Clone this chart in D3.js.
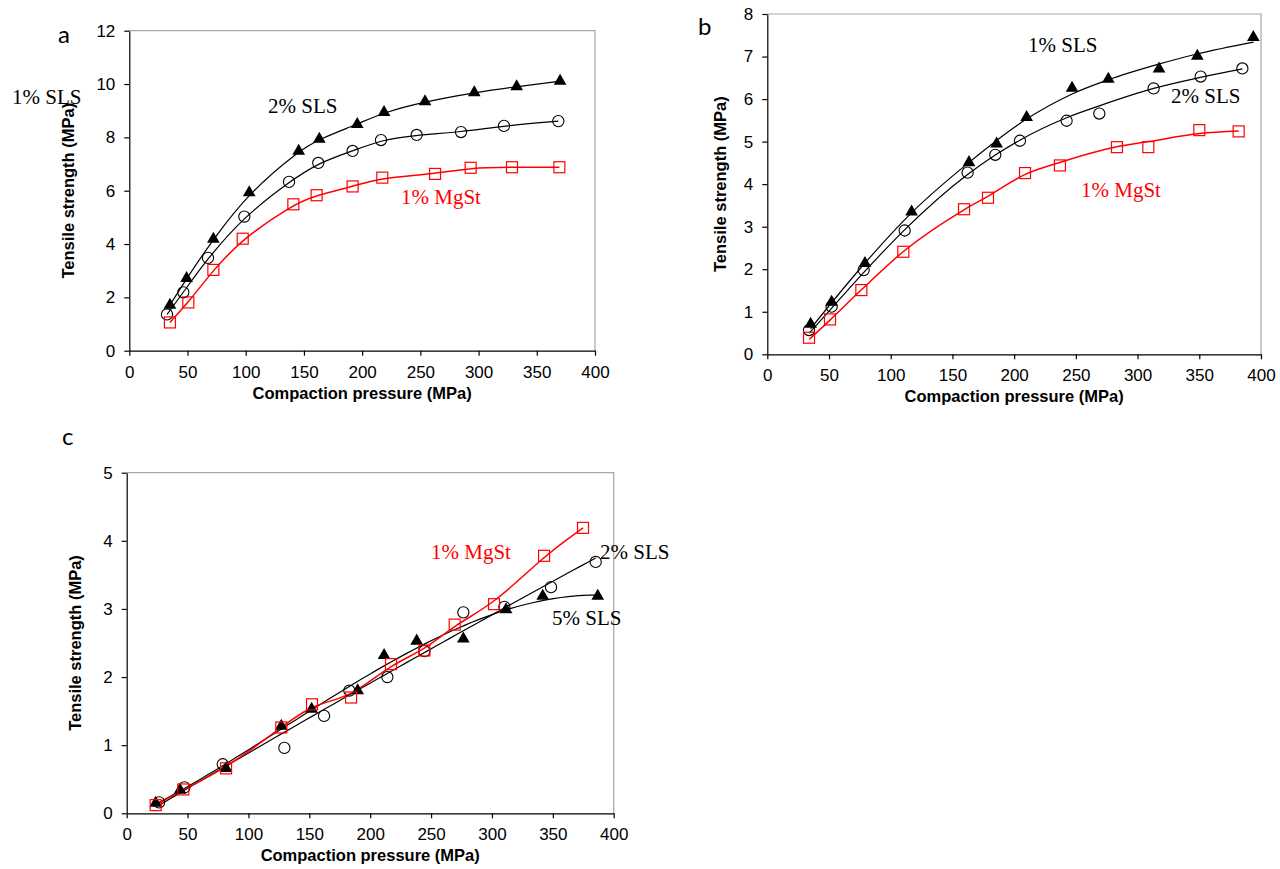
<!DOCTYPE html>
<html><head><meta charset="utf-8">
<script src="https://cdn.jsdelivr.net/npm/d3@7"></script>
<style>body{margin:0;background:#fff}svg{display:block}</style>
</head><body>
<svg id="chart" width="1280" height="869"></svg>
<script>
// ---------- DATA ----------
const xTickValues = [0, 50, 100, 150, 200, 250, 300, 350, 400];
const aTickValues = [0, 2, 4, 6, 8, 10, 12];
const bTickValues = [0, 1, 2, 3, 4, 5, 6, 7, 8];
const cTickValues = [0, 1, 2, 3, 4, 5];
const xTitle = "Compaction pressure (MPa)";
const yTitle = "Tensile strength (MPa)";

// Panel a
const aTriX = [34.9, 49.2, 72.2, 103, 145.5, 163.2, 195.8, 218.8, 254, 296.3, 332.7, 370];
const aTriY = [1.71, 2.71, 4.19, 5.93, 7.49, 7.94, 8.49, 8.94, 9.34, 9.68, 9.90, 10.11];
const aCirX = [32.4, 46.4, 67.6, 98.8, 137.2, 162.3, 191.8, 216.2, 246.8, 284.9, 321.8, 368.5];
const aCirY = [1.36, 2.19, 3.48, 5.03, 6.33, 7.04, 7.49, 7.90, 8.09, 8.20, 8.43, 8.61];
const aSqX  = [34.9, 50.7, 72.2, 97.4, 140.9, 160.9, 191.8, 217.3, 262.6, 293.2, 328.7, 369.4];
const aSqY  = [1.06, 1.81, 3.03, 4.20, 5.49, 5.83, 6.16, 6.49, 6.63, 6.86, 6.88, 6.88];

// Panel b (measured points)
const bTriX = [35.1, 52.1, 79.1, 116.9, 163.4, 185.8, 210.1, 246.9, 276.3, 317.4, 348.4, 393.8];
const bTriY = [0.71, 1.23, 2.14, 3.35, 4.51, 4.95, 5.57, 6.26, 6.47, 6.71, 7.01, 7.45];
const bCirX = [33.8, 52.1, 78.1, 111.3, 162.3, 184.7, 204.7, 242.5, 269, 313, 351.1, 384.9];
const bCirY = [0.57, 1.12, 1.98, 2.91, 4.27, 4.69, 5.02, 5.49, 5.66, 6.25, 6.53, 6.72];
const bSqX  = [33.8, 50.8, 76.2, 110.2, 159.4, 178.8, 208.8, 237.1, 283.3, 308.7, 350, 381.9];
const bSqY  = [0.39, 0.82, 1.51, 2.41, 3.41, 3.68, 4.26, 4.44, 4.87, 4.87, 5.27, 5.24];
// Panel b (fitted curves)
const bTriFitX = [35, 79, 117, 163, 210, 247, 276, 317, 348, 394];
const bTriFitY = [0.60, 2.14, 3.33, 4.50, 5.53, 6.12, 6.45, 6.82, 7.06, 7.34];
const bCirFitX = [34, 52, 78, 111, 162, 185, 205, 242.5, 269, 313, 351, 385];
const bCirFitY = [0.50, 1.08, 1.92, 2.92, 4.22, 4.69, 5.04, 5.56, 5.84, 6.25, 6.51, 6.71];
const bSqFitX  = [34, 51, 76, 110, 159, 179, 209, 237, 283, 309, 350, 382];
const bSqFitY  = [0.35, 0.81, 1.51, 2.41, 3.39, 3.72, 4.23, 4.51, 4.88, 5.00, 5.19, 5.25];

// Panel c
const cSqX  = [23.8, 46.5, 81.6, 127, 152.2, 184.3, 217.1, 244.5, 269.4, 301.7, 342.8, 374.8];
const cSqY  = [0.12, 0.35, 0.66, 1.26, 1.60, 1.70, 2.19, 2.39, 2.77, 3.07, 3.78, 4.19];
const cCirX = [26.6, 47.4, 78.9, 129.5, 162.1, 182.9, 214.1, 244.5, 276.5, 310.2, 348.5, 385.2];
const cCirY = [0.16, 0.38, 0.72, 0.96, 1.43, 1.80, 2.00, 2.38, 2.95, 3.03, 3.32, 3.69];
const cTriX = [23.8, 43.8, 81.6, 127, 151.9, 189.7, 211.4, 238.2, 276.5, 311.6, 341.7, 386.9];
const cTriY = [0.15, 0.34, 0.66, 1.28, 1.53, 1.80, 2.32, 2.53, 2.56, 2.99, 3.19, 3.19];

// ---------- HELPERS ----------
const svg = d3.select("#chart");
const zip = (xs, ys) => xs.map((x, i) => [x, ys[i]]);

function polyfit(xs, ys, deg) {
  const n = deg + 1, s = 100;
  const A = Array.from({length: n}, () => new Array(n + 1).fill(0));
  xs.forEach((xv, k) => {
    const x = xv / s;
    for (let i = 0; i < n; i++) {
      for (let j = 0; j < n; j++) A[i][j] += Math.pow(x, i + j);
      A[i][n] += ys[k] * Math.pow(x, i);
    }
  });
  for (let i = 0; i < n; i++) {
    let p = i;
    for (let r = i + 1; r < n; r++) if (Math.abs(A[r][i]) > Math.abs(A[p][i])) p = r;
    [A[i], A[p]] = [A[p], A[i]];
    for (let r = 0; r < n; r++) {
      if (r === i) continue;
      const f = A[r][i] / A[i][i];
      for (let c = i; c <= n; c++) A[r][c] -= f * A[i][c];
    }
  }
  const coef = A.map((row, i) => row[n] / row[i]);
  return x => coef.reduce((acc, c, i) => acc + c * Math.pow(x / s, i), 0);
}
function fitLine(xs, ys, deg) {
  const f = polyfit(xs, ys, deg);
  const lo = d3.min(xs), hi = d3.max(xs);
  return d3.range(0, 61).map(i => { const x = lo + (hi - lo) * i / 60; return [x, f(x)]; });
}

function panel(cfg) {
  const g = svg.append("g");
  const x = d3.scaleLinear().domain([0, 400]).range([cfg.left, cfg.right]);
  const y = d3.scaleLinear().domain([0, cfg.yMax]).range([cfg.bottom, cfg.top]);

  g.append("path")
    .attr("d", `M${cfg.left},${cfg.top}H${cfg.right}V${cfg.bottom}`)
    .attr("fill", "none").attr("stroke", "#a6a6a6").attr("stroke-width", 1.2);

  const xa = g.append("g").attr("transform", `translate(0,${cfg.bottom})`)
    .call(d3.axisBottom(x).tickValues(xTickValues).tickFormat(d3.format("d"))
      .tickSize(5).tickSizeOuter(0).tickPadding(10));
  const ya = g.append("g").attr("transform", `translate(${cfg.left},0)`)
    .call(d3.axisLeft(y).tickValues(cfg.yTicks).tickFormat(d3.format("d"))
      .tickSize(5).tickSizeOuter(0).tickPadding(9));
  [xa, ya].forEach(a => {
    a.selectAll("text").attr("font-family", "'Liberation Sans', Arial, sans-serif")
      .attr("font-size", 17).attr("fill", "#000");
    a.selectAll("line,path").attr("stroke", "#000").attr("stroke-width", 1.2);
  });

  g.append("text").text(xTitle)
    .attr("x", (cfg.left + cfg.right) / 2).attr("y", cfg.bottom + cfg.xTitleDy)
    .attr("text-anchor", "middle").attr("font-family", "'Liberation Sans', Arial, sans-serif")
    .attr("font-weight", "bold").attr("font-size", 16.5);
  g.append("text").text(yTitle)
    .attr("transform", `translate(${cfg.yTitleX},${(cfg.top + cfg.bottom) / 2}) rotate(-90)`)
    .attr("text-anchor", "middle").attr("font-family", "'Liberation Sans', Arial, sans-serif")
    .attr("font-weight", "bold").attr("font-size", 16.5);

  g.append("text").text(cfg.letter).attr("x", cfg.letterX).attr("y", cfg.letterY)
    .attr("font-family", "Lato, 'Open Sans', sans-serif").attr("font-size", 24);

  const line = d3.line().x(d => x(d[0])).y(d => y(d[1]));
  cfg.series.forEach(s => {
    g.append("path").datum(s.line)
      .attr("d", line.curve(s.curve || d3.curveLinear))
      .attr("fill", "none").attr("stroke", s.color).attr("stroke-width", s.color === "#000" ? 1.2 : 1.5);
  });
  cfg.series.forEach(s => {
    const mk = g.append("g");
    s.pts.forEach(p => {
      const cx = x(p[0]), cy = y(p[1]);
      if (s.marker === "tri") {
        mk.append("path").attr("d", d3.symbol(d3.symbolTriangle, 70)())
          .attr("transform", `translate(${cx},${cy})`).attr("fill", "#000");
      } else if (s.marker === "cir") {
        mk.append("circle").attr("cx", cx).attr("cy", cy).attr("r", 5.6)
          .attr("fill", "none").attr("stroke", "#000").attr("stroke-width", 1.1);
      } else {
        mk.append("rect").attr("x", cx - 5.5).attr("y", cy - 5.5).attr("width", 11).attr("height", 11)
          .attr("fill", "none").attr("stroke", "#f00").attr("stroke-width", 1.2);
      }
    });
  });
  cfg.notes.forEach(n => {
    g.append("text").text(n.t).attr("x", n.x).attr("y", n.y)
      .attr("font-family", "'Liberation Serif', 'Times New Roman', serif")
      .attr("font-size", 21).attr("fill", n.c || "#000");
  });
}

panel({
  left: 129.3, right: 595, top: 30.7, bottom: 350.7, yMax: 12, yTicks: aTickValues,
  xTitleDy: 48, yTitleX: 74, letter: "a", letterX: 58, letterY: 43,
  series: [
    {pts: zip(aTriX, aTriY), line: zip(aTriX, aTriY), curve: d3.curveBasis, color: "#000", marker: "tri"},
    {pts: zip(aCirX, aCirY), line: zip(aCirX, aCirY), curve: d3.curveBasis, color: "#000", marker: "cir"},
    {pts: zip(aSqX, aSqY), line: zip(aSqX, aSqY), curve: d3.curveBasis, color: "#f00", marker: "sq"}
  ],
  notes: [
    {t: "1% SLS", x: 12, y: 104},
    {t: "2% SLS", x: 268, y: 112.5},
    {t: "1% MgSt", x: 401, y: 204, c: "#f00"}
  ]
});

panel({
  left: 767.3, right: 1261, top: 14, bottom: 354.3, yMax: 8, yTicks: bTickValues,
  xTitleDy: 48, yTitleX: 726, letter: "b", letterX: 698, letterY: 35,
  series: [
    {pts: zip(bTriX, bTriY), line: zip(bTriFitX, bTriFitY), curve: d3.curveMonotoneX, color: "#000", marker: "tri"},
    {pts: zip(bCirX, bCirY), line: zip(bCirFitX, bCirFitY), curve: d3.curveMonotoneX, color: "#000", marker: "cir"},
    {pts: zip(bSqX, bSqY), line: zip(bSqFitX, bSqFitY), curve: d3.curveMonotoneX, color: "#f00", marker: "sq"}
  ],
  notes: [
    {t: "1% SLS", x: 1028, y: 52},
    {t: "2% SLS", x: 1171, y: 103},
    {t: "1% MgSt", x: 1081, y: 197, c: "#f00"}
  ]
});

panel({
  left: 126.7, right: 613.7, top: 472.7, bottom: 813.3, yMax: 5, yTicks: cTickValues,
  xTitleDy: 48, yTitleX: 81, letter: "c", letterX: 62, letterY: 445,
  series: [
    {pts: zip(cTriX, cTriY), line: fitLine(cTriX, cTriY, 3), curve: d3.curveLinear, color: "#000", marker: "tri"},
    {pts: zip(cCirX, cCirY), line: fitLine(cCirX, cCirY, 2), curve: d3.curveLinear, color: "#000", marker: "cir"},
    {pts: zip(cSqX, cSqY), line: zip(cSqX, cSqY), curve: d3.curveBasis, color: "#f00", marker: "sq"}
  ],
  notes: [
    {t: "1% MgSt", x: 431, y: 559, c: "#f00"},
    {t: "2% SLS", x: 600, y: 559},
    {t: "5% SLS", x: 552, y: 625}
  ]
});
</script>
</body></html>
